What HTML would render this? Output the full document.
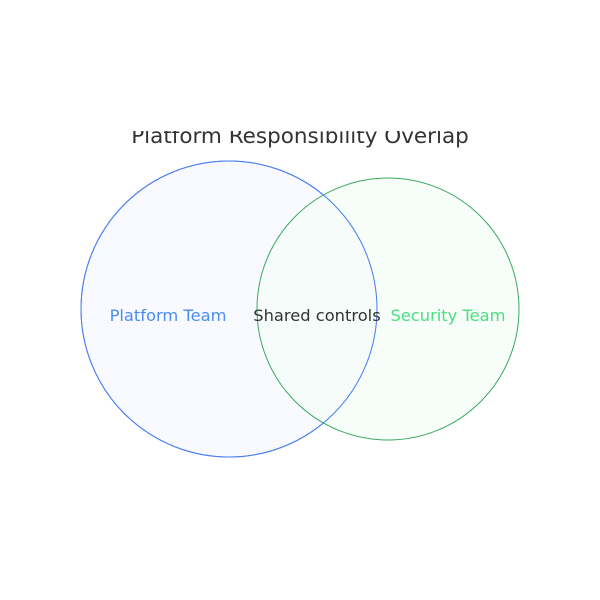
<!DOCTYPE html>
<html><head><style>html,body{margin:0;padding:0;background:#fff;}</style></head>
<body>
<svg width="600" height="600" xmlns="http://www.w3.org/2000/svg" style="display:block">
<defs><clipPath id="c"><rect x="0" y="131" width="600" height="40"/></clipPath></defs>
<rect width="600" height="600" fill="#fff"/>
<text x="300" y="143" text-anchor="middle" font-family="DejaVu Sans, sans-serif" font-size="21.5" fill="#333" clip-path="url(#c)">Platform Responsibility Overlap</text>
<circle cx="229" cy="309" r="148" fill="#f8faff" stroke="#4a7ff0" stroke-width="1"/>
<circle cx="388" cy="309" r="131" fill="#f5fcf7" fill-opacity="0.8" stroke="#3aaa60" stroke-width="1"/>
<circle cx="229" cy="309" r="148" fill="none" stroke="#4a7ff0" stroke-width="1"/>
<text x="168" y="321" text-anchor="middle" font-family="DejaVu Sans, sans-serif" font-size="16.3" fill="#4a8cf0">Platform Team</text>
<text x="317" y="321" text-anchor="middle" font-family="DejaVu Sans, sans-serif" font-size="16.3" fill="#333">Shared controls</text>
<text x="448" y="321" text-anchor="middle" font-family="DejaVu Sans, sans-serif" font-size="16.3" fill="#4ade80">Security Team</text>
</svg>
</body></html>
